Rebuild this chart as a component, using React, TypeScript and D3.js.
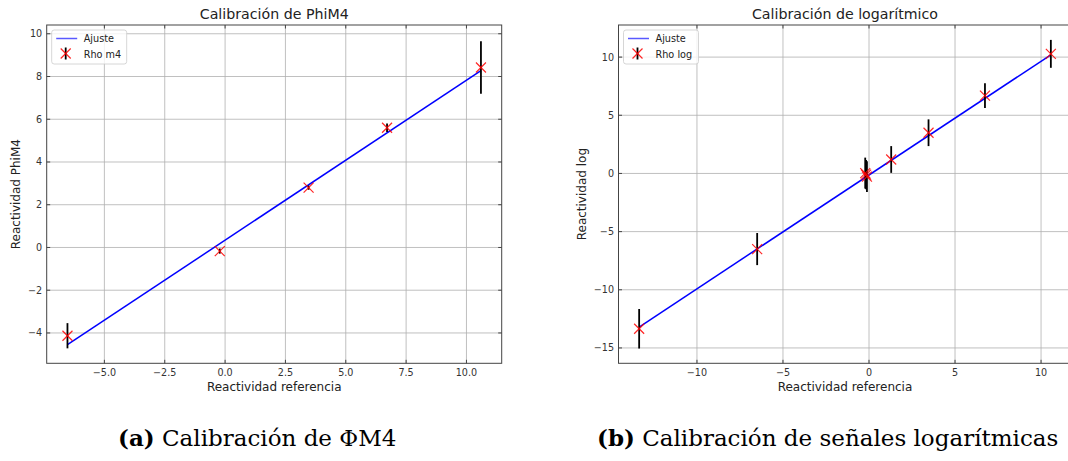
import * as d3 from 'd3';
import React from 'react';

// Calibración de PhiM4
const phiX = [-6.53, -0.22, 3.46, 6.71, 10.6];
const phiY = [-4.13, -0.17, 2.8, 5.6, 8.42];
const phiErr = [0.59, 0.12, 0.1, 0.2, 1.23];
const phiFitX = [-6.53, 10.6];
const phiFitY = [-4.55, 8.28];
const phiXTicks = [-5, -2.5, 0, 2.5, 5, 7.5, 10];
const phiYTicks = [-4, -2, 0, 2, 4, 6, 8, 10];

// Calibración de logarítmico
const logX = [-13.36, -6.5, -0.22, -0.17, -0.12, 1.29, 3.46, 6.74, 10.57];
const logY = [-13.35, -6.5, 0.03, -0.1, -0.27, 1.2, 3.5, 6.69, 10.28];
const logErr = [1.7, 1.38, 1.33, 1.25, 1.32, 1.15, 1.15, 1.06, 1.2];
const logFitX = [-13.36, 10.57];
const logFitY = [-13.2, 10.2];
const logXTicks = [-10, -5, 0, 5, 10];
const logYTicks = [-15, -10, -5, 0, 5, 10];

const FONT = 'DejaVu Sans, sans-serif';

const Panel = ({ x0, x1, y0, y1, xDomain, yDomain, xs, ys, errs, fitX, fitY,
  xTicks, yTicks, xFmt, yFmt, title, ylabel, ylabelX, legendLabel }) => {
  const x = d3.scaleLinear().domain(xDomain).range([x0, x1]);
  const y = d3.scaleLinear().domain(yDomain).range([y1, y0]);
  const line = d3.line().x(d => x(d[0])).y(d => y(d[1]));
  const fit = fitX.map((v, i) => [v, fitY[i]]);
  const cx = (x0 + x1) / 2;
  const cy = (y0 + y1) / 2;
  const tl = 3.5;
  const ms = 5;
  const lx = x0 + 5;
  return (
    <g>
      {/* grid */}
      {xTicks.map(t => (
        <line key={'gx' + t} x1={x(t)} x2={x(t)} y1={y0} y2={y1} stroke="#b0b0b0" strokeWidth={0.8} />
      ))}
      {yTicks.map(t => (
        <line key={'gy' + t} x1={x0} x2={x1} y1={y(t)} y2={y(t)} stroke="#b0b0b0" strokeWidth={0.8} />
      ))}
      {/* fit */}
      <path d={line(fit)} fill="none" stroke="#0000ff" strokeWidth={1.5} />
      {/* error bars */}
      {xs.map((v, i) => (
        <line key={'e' + i} x1={x(v)} x2={x(v)} y1={y(ys[i] - errs[i])} y2={y(ys[i] + errs[i])}
          stroke="#000" strokeWidth={1.8} />
      ))}
      {/* markers */}
      {xs.map((v, i) => (
        <path key={'m' + i}
          d={`M${x(v) - ms},${y(ys[i]) - ms}L${x(v) + ms},${y(ys[i]) + ms}M${x(v) - ms},${y(ys[i]) + ms}L${x(v) + ms},${y(ys[i]) - ms}`}
          stroke="#ff0000" strokeOpacity={0.85} strokeWidth={1.2} fill="none" />
      ))}
      {/* spines */}
      <rect x={x0} y={y0} width={x1 - x0} height={y1 - y0} fill="none" stroke="#444" strokeWidth={1} />
      {/* ticks inside, all four sides */}
      {xTicks.map(t => (
        <g key={'tx' + t}>
          <line x1={x(t)} x2={x(t)} y1={y1} y2={y1 - tl} stroke="#444" />
          <line x1={x(t)} x2={x(t)} y1={y0} y2={y0 + tl} stroke="#444" />
          <text x={x(t)} y={y1 + 13} textAnchor="middle" fontSize={9.6} fill="#333" fontFamily={FONT}>{xFmt(t)}</text>
        </g>
      ))}
      {yTicks.map(t => (
        <g key={'ty' + t}>
          <line x1={x0} x2={x0 + tl} y1={y(t)} y2={y(t)} stroke="#444" />
          <line x1={x1} x2={x1 - tl} y1={y(t)} y2={y(t)} stroke="#444" />
          <text x={x0 - 4.5} y={y(t) + 3.5} textAnchor="end" fontSize={9.6} fill="#333" fontFamily={FONT}>{yFmt(t)}</text>
        </g>
      ))}
      <text x={cx} y={19} textAnchor="middle" fontSize={14.2} fill="#222" fontFamily={FONT}>{title}</text>
      <text x={cx} y={y1 + 28} textAnchor="middle" fontSize={12} fill="#222" fontFamily={FONT}>Reactividad referencia</text>
      <text transform={`translate(${ylabelX},${cy}) rotate(-90)`} textAnchor="middle" fontSize={12} fill="#222" fontFamily={FONT}>{ylabel}</text>
      {/* legend */}
      <rect x={lx} y={y0 + 5} width={75} height={34} rx={2.5} fill="#fff" fillOpacity={0.8} stroke="#ccc" strokeWidth={0.8} />
      <line x1={lx + 4.5} x2={lx + 25.5} y1={y0 + 13.5} y2={y0 + 13.5} stroke="#0000ff" strokeOpacity={0.65} strokeWidth={1.5} />
      <text x={lx + 32} y={y0 + 17} fontSize={9.7} fill="#222" fontFamily={FONT}>Ajuste</text>
      <line x1={lx + 14} x2={lx + 14} y1={y0 + 22.5} y2={y0 + 34.5} stroke="#000" strokeWidth={1.8} />
      <path d={`M${lx + 9},${y0 + 23.5}L${lx + 19},${y0 + 33.5}M${lx + 9},${y0 + 33.5}L${lx + 19},${y0 + 23.5}`}
        stroke="#ff0000" strokeOpacity={0.85} strokeWidth={1.2} />
      <text x={lx + 32} y={y0 + 32.5} fontSize={9.7} fill="#222" fontFamily={FONT}>{legendLabel}</text>
    </g>
  );
};

const App = () => {
  const f1 = d3.format('.1f');
  const fd = d3.format('d');
  return (
    <svg width={1068} height={461} style={{ position: 'absolute', left: 0, top: 0, background: '#fff' }}>
      <rect width={1068} height={461} fill="#fff" />
      <Panel x0={46.7} x1={501.7} y0={25} y1={363.3}
        xDomain={[-7.39, 11.46]} yDomain={[-5.42, 10.41]}
        xs={phiX} ys={phiY} errs={phiErr} fitX={phiFitX} fitY={phiFitY}
        xTicks={phiXTicks} yTicks={phiYTicks} xFmt={f1} yFmt={fd}
        title="Calibración de PhiM4" ylabel="Reactividad PhiM4" ylabelX={19.5} legendLabel="Rho m4" />
      <Panel x0={618.5} x1={1071.5} y0={25} y1={363.3}
        xDomain={[-14.56, 11.77]} yDomain={[-16.32, 12.76]}
        xs={logX} ys={logY} errs={logErr} fitX={logFitX} fitY={logFitY}
        xTicks={logXTicks} yTicks={logYTicks} xFmt={fd} yFmt={fd}
        title="Calibración de logarítmico" ylabel="Reactividad log" ylabelX={585.5} legendLabel="Rho log" />
      <text x={118} y={446} fontSize={23} fontFamily="DejaVu Serif, serif" fill="#000">
        <tspan fontWeight="bold">(a)</tspan> Calibración de ΦM4
      </text>
      <text x={597} y={446} fontSize={23} fontFamily="DejaVu Serif, serif" fill="#000">
        <tspan fontWeight="bold">(b)</tspan> Calibración de señales logarítmicas
      </text>
    </svg>
  );
};

export default App;
